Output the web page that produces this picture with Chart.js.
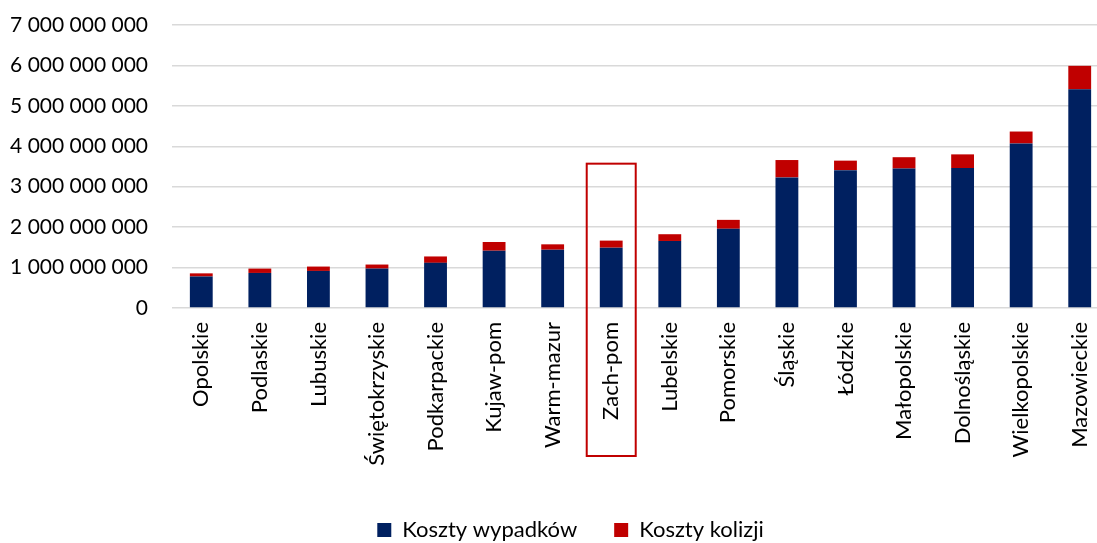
<!DOCTYPE html>
<html>
<head>
<meta charset="utf-8">
<script src="https://cdn.jsdelivr.net/npm/chart.js"></script>
<style>
  html, body { margin: 0; padding: 0; background: #fff; overflow: hidden; }
</style>
</head>
<body>
<canvas id="costChart" width="1140" height="543"></canvas>
<script>
// województwa, posortowane rosnąco
const regions = [
  "Opolskie", "Podlaskie", "Lubuskie", "Świętokrzyskie", "Podkarpackie",
  "Kujaw-pom", "Warm-mazur", "Zach-pom", "Lubelskie", "Pomorskie",
  "Śląskie", "Łódzkie", "Małopolskie", "Dolnośląskie", "Wielkopolskie", "Mazowieckie"
];
const accidentCosts = [
  780e6, 867e6, 917e6, 975e6, 1117e6,
  1417e6, 1442e6, 1492e6, 1658e6, 1960e6,
  3230e6, 3410e6, 3450e6, 3460e6, 4070e6, 5410e6
];
const collisionCosts = [
  77e6, 108e6, 108e6, 100e6, 158e6,
  216e6, 133e6, 175e6, 167e6, 220e6,
  430e6, 235e6, 280e6, 340e6, 295e6, 580e6
];
const yTicks = [0, 1e9, 2e9, 3e9, 4e9, 5e9, 6e9, 7e9];
const highlighted = "Zach-pom";
const highlightTop = 3.57e9;

function fmt(v) {
  return String(Math.round(v)).replace(/\B(?=(\d{3})+(?!\d))/g, " ");
}

// ramka wokół wyróżnionego województwa + przesunięcie legendy
const highlightBox = {
  id: "highlightBox",
  afterLayout(chart) {
    chart.legend.left += 16;
    chart.legend.right += 16;
  },
  afterDraw(chart) {
    const x = chart.scales.x, y = chart.scales.y;
    const cx = x.getPixelForValue(regions.indexOf(highlighted));
    const top = y.getPixelForValue(highlightTop);
    const ctx = chart.ctx;
    ctx.save();
    ctx.strokeStyle = "#C00000";
    ctx.lineWidth = 2;
    ctx.strokeRect(cx - 24.5, top, 49, chart.chartArea.bottom + 148 - top);
    ctx.restore();
  }
};

Chart.defaults.font.family = "Lato";
Chart.defaults.font.size = 21;
Chart.defaults.color = "#000";

const ctx = document.getElementById("costChart").getContext("2d");
const costChart = new Chart(ctx, {
  type: "bar",
  data: {
    labels: regions,
    datasets: [
      {
        label: "Koszty wypadków",
        data: accidentCosts,
        backgroundColor: "#002060",
        barPercentage: 0.39,
        categoryPercentage: 1
      },
      {
        label: "Koszty kolizji",
        data: collisionCosts,
        backgroundColor: "#C00000",
        barPercentage: 0.39,
        categoryPercentage: 1
      }
    ]
  },
  options: {
    responsive: false,
    animation: false,
    layout: { padding: { top: 25, left: 0, right: 31, bottom: -8 } },
    scales: {
      x: {
        stacked: true,
        grid: { display: false },
        border: { display: false },
        ticks: { minRotation: 90, maxRotation: 90, autoSkip: false, padding: 6, font: { size: 22 } },
        afterFit: (s) => { s.height = 174; s.paddingLeft = 0; s.paddingRight = 0; }
      },
      y: {
        stacked: true,
        min: 0,
        max: 7e9,
        afterBuildTicks: (s) => { s.ticks = yTicks.map((v) => ({ value: v })); },
        grid: { color: "#D9D9D9", lineWidth: 1.5, drawTicks: false },
        border: { display: false },
        ticks: { padding: 24, callback: (v) => fmt(v) },
        afterFit: (s) => { s.width = 172; s.paddingTop = 0; s.paddingBottom = 0; }
      }
    },
    plugins: {
      legend: {
        position: "bottom",
        labels: { boxWidth: 14, boxHeight: 14, padding: 37, font: { size: 22 } }
      },
      tooltip: { enabled: false }
    }
  },
  plugins: [highlightBox]
});
</script>
</body>
</html>
